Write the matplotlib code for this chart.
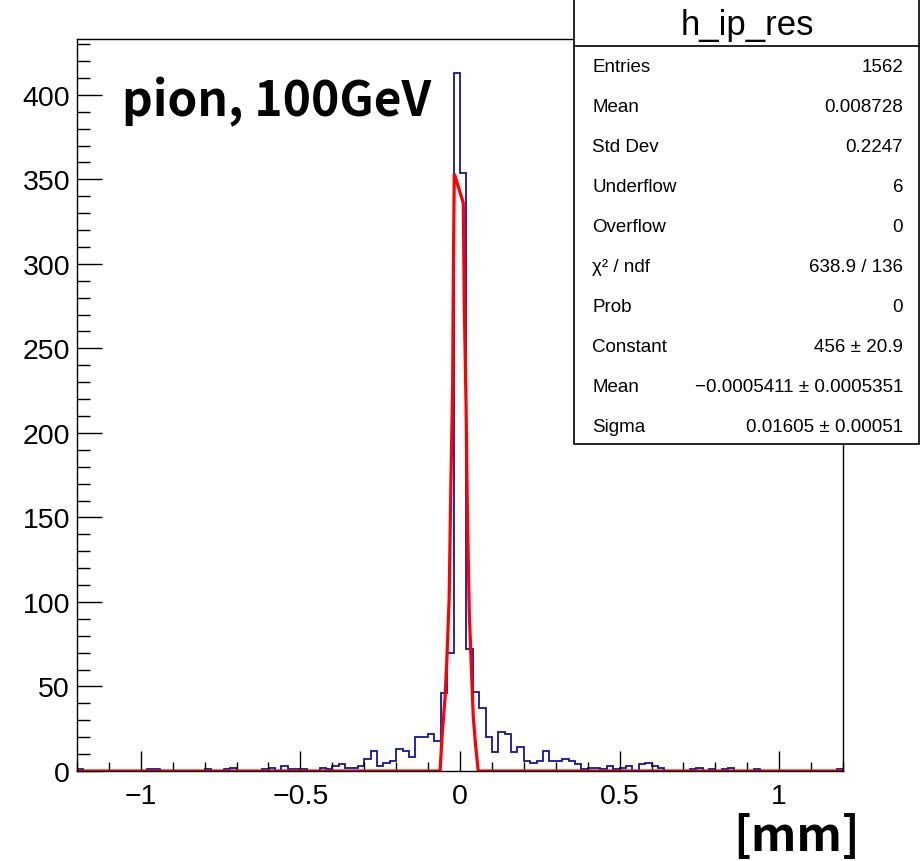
import numpy as np
import matplotlib
matplotlib.use("Agg")
import matplotlib.pyplot as plt
from matplotlib.ticker import MultipleLocator
from matplotlib.patches import Rectangle
from matplotlib.lines import Line2D

# ---------------- data ----------------
x_min, x_max, n_bins = -1.2, 1.2, 120
counts = [
    # bins 0..19  (-1.20 .. -0.80)
    1, 0, 0, 0, 0, 0, 0, 0, 0, 0, 0, 1, 1, 0, 0, 0, 0, 0, 0, 0,
    # bins 20..39 (-0.80 .. -0.40)
    1, 0, 0, 1, 2, 0, 0, 0, 0, 1, 2, 0, 3, 1, 1, 1, 0, 0, 2, 1,
    # bins 40..59 (-0.40 .. 0.00)
    3, 4, 2, 2, 3, 7, 12, 3, 5, 6, 13, 12, 8, 20, 20, 22, 18, 46, 70, 413,
    # bins 60..79 (0.00 .. 0.40)
    354, 72, 47, 37, 20, 11, 23, 22, 11, 14, 6, 5, 6, 12, 6, 6, 7, 6, 4, 1,
    # bins 80..99 (0.40 .. 0.80)
    2, 2, 1, 3, 1, 2, 3, 0, 4, 5, 3, 2, 0, 0, 0, 0, 1, 2, 0, 1,
    # bins 100..119 (0.80 .. 1.20)
    0, 1, 2, 0, 0, 0, 1, 0, 0, 0, 0, 0, 0, 0, 0, 0, 0, 0, 0, 1,
]
fit_x = [-1.2, -0.0625, -0.056, -0.047, -0.0416, -0.034, -0.029, -0.023, -0.021,
         -0.018, -0.0156, 0.0103, 0.0134, 0.019, 0.023, 0.029, 0.0366, 0.0416,
         0.049, 0.057, 1.2]
fit_y = [0, 0, 21, 43, 64, 102, 165, 228, 290, 353, 352, 336, 276, 216, 155,
         94, 56, 32, 15, 0, 0]

stat_names = ["Entries", "Mean", "Std Dev", "Underflow", "Overflow",
              "\u03c7\u00b2 / ndf", "Prob", "Constant", "Mean", "Sigma"]
stat_values = ["1562", "0.008728", "0.2247", "6", "0", "638.9 / 136", "0",
               "456 \u00b1 20.9", "\u22120.0005411 \u00b1 0.0005351",
               "0.01605 \u00b1 0.00051"]
hist_name = "h_ip_res"
label_text = "pion, 100GeV"
unit_text = "[mm]"

# ---------------- figure ----------------
W, H = 922, 862
fig = plt.figure(figsize=(W / 100, H / 100), dpi=100)
fig.patch.set_facecolor("white")

def fx(px):
    return px / W

def fy(py):
    return 1 - py / H

ax_l, ax_r, ax_t, ax_b = 77, 843, 40, 772
ax = fig.add_axes([fx(ax_l), fy(ax_b), (ax_r - ax_l) / W, (ax_b - ax_t) / H])

edges = np.linspace(x_min, x_max, n_bins + 1)
ax.stairs(counts, edges, color="#1414a8", linewidth=1.3, baseline=None)
ax.plot(fit_x, fit_y, color="#ff0000", linewidth=2.3, solid_joinstyle="miter")

ax.set_xlim(x_min, x_max)
ax.set_ylim(0, 433)

ax.xaxis.set_major_locator(MultipleLocator(0.5))
ax.xaxis.set_minor_locator(MultipleLocator(0.1))
ax.yaxis.set_major_locator(MultipleLocator(50))
ax.yaxis.set_minor_locator(MultipleLocator(10))
ax.tick_params(axis="x", which="major", direction="in", length=14.5, width=1.0,
               pad=9, top=False)
ax.tick_params(axis="x", which="minor", direction="in", length=6.5, width=1.0,
               top=False)
ax.tick_params(axis="y", which="major", direction="in", length=18, width=1.0,
               pad=5, right=False)
ax.tick_params(axis="y", which="minor", direction="in", length=9, width=1.0,
               right=False)
for lab in ax.get_xticklabels() + ax.get_yticklabels():
    lab.set_fontfamily("Liberation Sans")
    lab.set_fontsize(20.5)

def fmt_x(v, pos):
    if abs(v) < 1e-9:
        return "0"
    s = ("%g" % v)
    return s.replace("-", "\u2212")

ax.xaxis.set_major_formatter(matplotlib.ticker.FuncFormatter(fmt_x))
ax.yaxis.set_major_formatter(matplotlib.ticker.FuncFormatter(lambda v, p: "%d" % v))
for sp in ax.spines.values():
    sp.set_linewidth(1.0)

# --------------- texts ---------------
fig.text(fx(122), fy(116), label_text, fontsize=34.5, fontweight="bold",
         family=["Noto Sans CJK JP", "DejaVu Sans"], ha="left", va="baseline")
fig.text(fx(797), fy(837), unit_text, fontsize=34, fontweight="bold",
         family=["Noto Sans CJK JP", "DejaVu Sans"], ha="center", va="center")

# --------------- stats box ---------------
bx_l, bx_r, bx_t, bx_b = 574, 919, -3, 445
fig.patches.append(Rectangle((fx(bx_l), fy(bx_b)), (bx_r - bx_l) / W,
                             (bx_b - bx_t) / H, transform=fig.transFigure,
                             facecolor="white", edgecolor="black", linewidth=1.2,
                             zorder=5))
fig.lines.append(Line2D([fx(bx_l), fx(bx_r)], [fy(47), fy(47)],
                        transform=fig.transFigure, color="black", linewidth=1.2,
                        zorder=6))
fig.text(fx(747), fy(26), hist_name, fontsize=25, family="Liberation Sans",
         ha="center", va="center", zorder=7)
for k, (n, v) in enumerate(zip(stat_names, stat_values)):
    yy = 67 + 40.07 * k
    fig.text(fx(592), fy(yy), n, fontsize=13.5, family="Liberation Sans",
             ha="left", va="center", zorder=7)
    fig.text(fx(903), fy(yy), v, fontsize=13.5, family="Liberation Sans",
             ha="right", va="center", zorder=7)

fig.savefig("out.png", dpi=100, facecolor="white")
